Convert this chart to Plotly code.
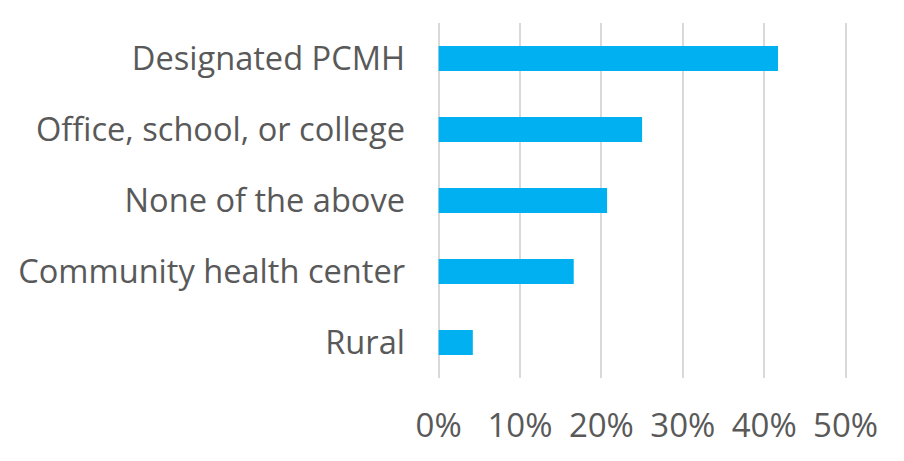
import plotly.graph_objects as go

categories = ["Designated PCMH", "Office, school, or college", "None of the above",
              "Community health center", "Rural"]
values = [0.417, 0.250, 0.207, 0.166, 0.042]
tick_vals = [0, 0.1, 0.2, 0.3, 0.4, 0.5]
tick_text = ["0%", "10%", "20%", "30%", "40%", "50%"]

fig = go.Figure(go.Bar(
    x=values, y=categories, orientation="h",
    marker=dict(color="#00B0F0", line=dict(width=0)),
    width=0.35,
))

# page body has an 8px default margin, so the figure is drawn 8px smaller
fig.update_layout(
    width=896, height=453,
    margin=dict(l=429, r=56, t=15, b=83),
    paper_bgcolor="white", plot_bgcolor="white",
    font=dict(family="Open Sans", color="#595959"),
    showlegend=False,
    xaxis=dict(range=[-0.002, 0.503], tickvals=tick_vals, ticktext=tick_text,
               showgrid=True, gridcolor="#D9D9D9", gridwidth=1.5,
               zeroline=True, zerolinecolor="#D9D9D9", zerolinewidth=1.5,
               showline=False, ticks="", automargin=False,
               tickfont=dict(size=33, color="#595959"),
               ticklabelstandoff=25),
    yaxis=dict(autorange="reversed", showgrid=False, zeroline=False,
               showline=False, ticks="", automargin=False,
               tickfont=dict(size=32.6, color="#595959"),
               ticklabelstandoff=31),
)

fig.write_html("out.html")
